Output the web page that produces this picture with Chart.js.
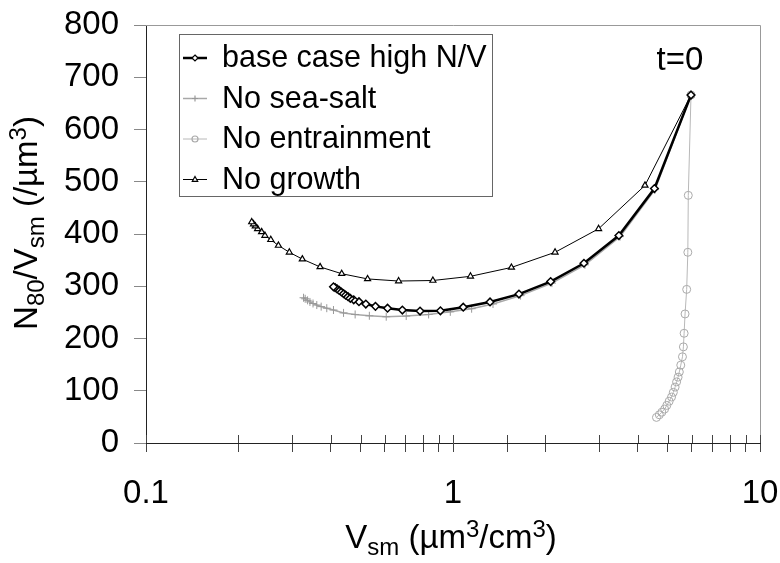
<!DOCTYPE html>
<html>
<head>
<meta charset="utf-8">
<style>
html, body { margin: 0; padding: 0; background: #fff; }
#wrap { width: 780px; height: 563px; }
</style>
<script src="https://cdn.jsdelivr.net/npm/chart.js@4.4.1/dist/chart.umd.min.js"></script>
</head>
<body>
<div id="wrap"><canvas id="myChart" width="780" height="563"></canvas></div>
<script>
// Tick labels
const xTickLabels = ['0.1', '1', '10'];
const yMin = 0, yMax = 800, yStep = 100;

// Series names
const seriesNames = ['base case high N/V', 'No sea-salt', 'No entrainment', 'No growth'];

// base case high N/V (from t=0 onwards)
const baseX = [5.96, 4.53, 3.47, 2.67, 2.08, 1.64, 1.32, 1.08, 0.91, 0.781, 0.684, 0.612, 0.559, 0.520, 0.494, 0.475, 0.463, 0.455, 0.447, 0.440, 0.433, 0.426, 0.419, 0.413, 0.408];
const baseY = [666, 487, 397, 344, 309, 285, 270, 260, 253, 252.5, 254.5, 258, 261.5, 266, 270.5, 274, 277, 280, 283, 286, 289, 292, 295, 297.5, 299];

// No sea-salt
const saltX = [5.96, 4.55, 3.50, 2.69, 2.10, 1.66, 1.35, 1.15, 0.98, 0.833, 0.704, 0.606, 0.534, 0.480, 0.440, 0.408, 0.388, 0.372, 0.360, 0.350, 0.342, 0.336, 0.330, 0.326];
const saltY = [666, 485, 395, 341, 306, 282, 266, 257, 251, 246, 243, 241.7, 243.5, 246, 249, 254.5, 258, 261, 264, 267, 270, 273, 276, 278];

// No entrainment
const entrX = [5.96, 5.84, 5.82, 5.77, 5.70, 5.66, 5.63, 5.59, 5.52, 5.46, 5.41, 5.35, 5.29, 5.22, 5.15, 5.06, 4.97, 4.89, 4.79, 4.70, 4.60];
const entrY = [666, 474, 365, 294, 247, 210, 184, 165, 149, 136, 126, 117, 107, 97, 88, 80, 72, 65, 59, 54, 49];

// No growth
const growX = [5.96, 4.22, 2.98, 2.15, 1.55, 1.14, 0.860, 0.665, 0.527, 0.434, 0.369, 0.323, 0.293, 0.270, 0.255, 0.244, 0.238, 0.231, 0.227, 0.224, 0.221];
const growY = [666, 493, 410, 365, 336, 319, 311, 310, 314, 324, 337, 352, 365, 378, 389, 397, 404, 410, 415, 419, 423];

const FONT = "'Liberation Sans', Arial, Helvetica, sans-serif";

function pts(xs, ys) {
    return xs.map((x, i) => ({x: x, y: ys[i]}));
}

// Marker drawing for the custom legend
function drawMarker(ctx, style, x, y, r, color, fill) {
    ctx.save();
    ctx.strokeStyle = color;
    ctx.fillStyle = fill;
    ctx.lineWidth = 1.2;
    ctx.beginPath();
    if (style === 'rectRot') {
        ctx.moveTo(x, y - r); ctx.lineTo(x + r, y); ctx.lineTo(x, y + r); ctx.lineTo(x - r, y); ctx.closePath();
        ctx.fill(); ctx.stroke();
    } else if (style === 'cross') {
        ctx.moveTo(x - r, y); ctx.lineTo(x + r, y); ctx.moveTo(x, y - r); ctx.lineTo(x, y + r);
        ctx.stroke();
    } else if (style === 'circle') {
        ctx.arc(x, y, r, 0, Math.PI * 2);
        ctx.fill(); ctx.stroke();
    } else if (style === 'triangle') {
        ctx.moveTo(x, y - r); ctx.lineTo(x + r * 0.9, y + r * 0.6); ctx.lineTo(x - r * 0.9, y + r * 0.6); ctx.closePath();
        ctx.fill(); ctx.stroke();
    }
    ctx.restore();
}

// Text with sub/superscript parts, centred on the origin
function drawRich(ctx, parts, size) {
    const small = Math.round(size * 0.72);
    let w = 0;
    parts.forEach(p => {
        ctx.font = (p.sub || p.sup ? small : size) + 'px ' + FONT;
        p.w = ctx.measureText(p.t).width;
        w += p.w;
    });
    let x = -w / 2;
    parts.forEach(p => {
        ctx.font = (p.sub || p.sup ? small : size) + 'px ' + FONT;
        let dy = 0;
        if (p.sub) dy = size * 0.22;
        if (p.sup) dy = -size * 0.33;
        ctx.fillText(p.t, x, dy);
        x += p.w;
    });
}

const extrasPlugin = {
    id: 'extras',
    afterDraw(chart) {
        const ctx = chart.ctx;
        const a = chart.chartArea;
        const xs = chart.scales.x;
        ctx.save();

        // top and right frame
        ctx.strokeStyle = '#999';
        ctx.lineWidth = 1;
        ctx.beginPath();
        ctx.moveTo(a.left, a.top + 0.5); ctx.lineTo(a.right + 0.5, a.top + 0.5); ctx.lineTo(a.right + 0.5, a.bottom);
        ctx.stroke();

        // upper half of x ticks (they cross the axis)
        ctx.strokeStyle = '#444';
        ctx.beginPath();
        xs.ticks.forEach(t => {
            const px = Math.round(xs.getPixelForValue(t.value)) + 0.5;
            ctx.moveTo(px, a.bottom - 8); ctx.lineTo(px, a.bottom);
        });
        ctx.stroke();

        // legend
        const lx = 179, ly = 34, lw = 313, lh = 162;
        ctx.fillStyle = '#fff';
        ctx.fillRect(lx, ly, lw, lh);
        ctx.strokeStyle = '#666';
        ctx.lineWidth = 1;
        ctx.strokeRect(lx + 0.5, ly + 0.5, lw, lh);
        chart.data.datasets.forEach((ds, i) => {
            const cy = 58 + i * 40.5;
            ctx.strokeStyle = ds.borderColor;
            ctx.lineWidth = ds.borderWidth;
            ctx.beginPath();
            ctx.moveTo(lx + 4, cy); ctx.lineTo(lx + 28, cy);
            ctx.stroke();
            drawMarker(ctx, ds.pointStyle, lx + 16, cy, 3, ds.pointBorderColor, ds.pointBackgroundColor);
            ctx.fillStyle = '#000';
            ctx.font = '30.5px ' + FONT;
            ctx.textAlign = 'left';
            ctx.textBaseline = 'middle';
            ctx.fillText(ds.label, lx + 43, cy + 1);
        });

        // t=0 annotation
        ctx.fillStyle = '#000';
        ctx.font = '33px ' + FONT;
        ctx.textAlign = 'center';
        ctx.textBaseline = 'alphabetic';
        ctx.fillText('t=0', 680, 70);

        // x axis title
        ctx.textAlign = 'left';
        ctx.save();
        ctx.translate(451, 548);
        drawRich(ctx, [{t: 'V'}, {t: 'sm', sub: true}, {t: ' (µm'}, {t: '3', sup: true}, {t: '/cm'}, {t: '3', sup: true}, {t: ')'}], 33);
        ctx.restore();

        // y axis title
        ctx.save();
        ctx.translate(37, 223);
        ctx.rotate(-Math.PI / 2);
        drawRich(ctx, [{t: 'N'}, {t: '80', sub: true}, {t: '/V'}, {t: 'sm', sub: true}, {t: ' (/µm'}, {t: '3', sup: true}, {t: ')'}], 33);
        ctx.restore();

        ctx.restore();
    }
};

const ctx = document.getElementById('myChart').getContext('2d');

const chart = new Chart(ctx, {
    type: 'line',
    data: {
        datasets: [
            {
                label: seriesNames[0],
                data: pts(baseX, baseY),
                borderColor: '#000',
                borderWidth: 2.5,
                pointStyle: 'rectRot',
                pointRadius: 3.8,
                pointBorderWidth: 1.5,
                pointBorderColor: '#000',
                pointBackgroundColor: '#fff',
                order: 1
            },
            {
                label: seriesNames[1],
                data: pts(saltX, saltY),
                borderColor: '#a8a8a8',
                borderWidth: 1.5,
                pointStyle: 'cross',
                pointRadius: 4,
                pointBorderWidth: 1,
                pointBorderColor: '#999',
                pointBackgroundColor: '#999',
                order: 2
            },
            {
                label: seriesNames[2],
                data: pts(entrX, entrY),
                borderColor: '#b8b8b8',
                borderWidth: 1,
                pointStyle: 'circle',
                pointRadius: 4,
                pointBorderWidth: 1,
                pointBorderColor: '#aaa',
                pointBackgroundColor: 'rgba(255,255,255,0)',
                order: 3
            },
            {
                label: seriesNames[3],
                data: pts(growX, growY),
                borderColor: '#000',
                borderWidth: 1,
                pointStyle: 'triangle',
                pointRadius: 3.5,
                pointBorderWidth: 1.2,
                pointBorderColor: '#000',
                pointBackgroundColor: '#fff',
                order: 4
            }
        ]
    },
    options: {
        responsive: false,
        animation: false,
        devicePixelRatio: 1,
        layout: {
            padding: {top: 25, right: 20, left: 0, bottom: 0}
        },
        elements: {
            line: {tension: 0}
        },
        plugins: {
            legend: {display: false},
            tooltip: {enabled: false}
        },
        scales: {
            x: {
                type: 'logarithmic',
                min: 0.1,
                max: 10,
                afterFit: s => { s.height = 120; s.paddingLeft = 0; s.paddingRight = 0; },
                border: {display: true, color: '#222', width: 1},
                grid: {drawOnChartArea: false, drawTicks: true, tickLength: 9, color: '#444'},
                ticks: {
                    autoSkip: false,
                    maxRotation: 0,
                    padding: 22,
                    color: '#000',
                    font: {family: FONT, size: 33},
                    callback: function (value) {
                        const e = Math.log10(value);
                        if (Math.abs(e - Math.round(e)) < 1e-6) {
                            return xTickLabels[Math.round(e) + 1];
                        }
                        return '';
                    }
                }
            },
            y: {
                min: yMin,
                max: yMax,
                afterFit: s => { s.width = 146; s.paddingTop = 0; s.paddingBottom = 0; },
                border: {display: true, color: '#222', width: 1},
                grid: {drawOnChartArea: false, drawTicks: true, tickLength: 12, color: '#888'},
                ticks: {
                    stepSize: yStep,
                    padding: 15,
                    color: '#000',
                    font: {family: FONT, size: 33}
                }
            }
        }
    },
    plugins: [extrasPlugin]
});
</script>
</body>
</html>
